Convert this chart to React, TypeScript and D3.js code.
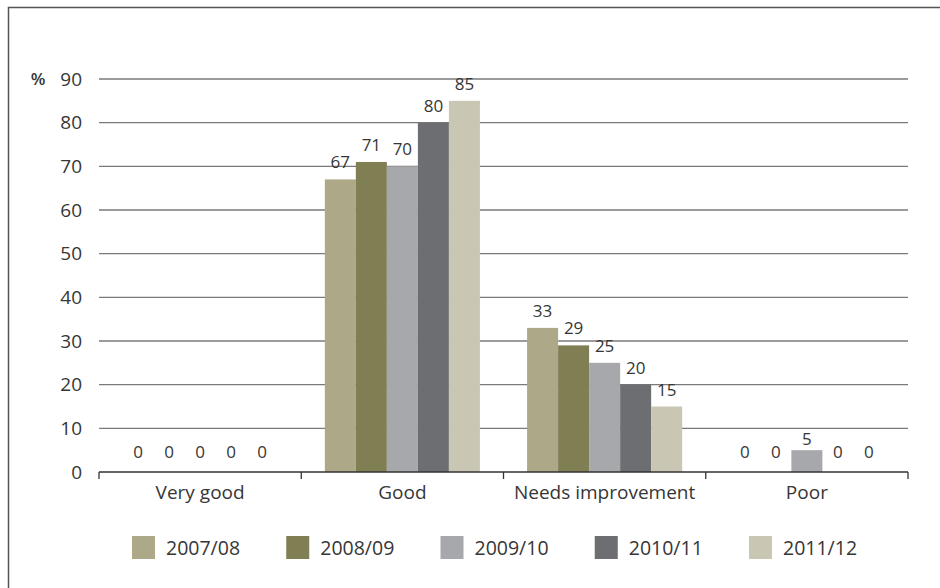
import React from "react";
import * as d3 from "d3";

const categories = ["Very good", "Good", "Needs improvement", "Poor"];
const seriesNames = ["2007/08", "2008/09", "2009/10", "2010/11", "2011/12"];
const colors = ["#ADA887", "#807E53", "#A7A8AC", "#6D6E71", "#C9C6B3"];
const values2007 = [0, 67, 33, 0];
const values2008 = [0, 71, 29, 0];
const values2009 = [0, 70, 25, 5];
const values2010 = [0, 80, 20, 0];
const values2011 = [0, 85, 15, 0];
const seriesValues = [values2007, values2008, values2009, values2010, values2011];
const yTicks = [0, 10, 20, 30, 40, 50, 60, 70, 80, 90];

const W = 940;
const H = 588;
const FONT = "'Open Sans', sans-serif";
const TEXT = "#363636";

export default function App() {
  const x0 = d3.scaleBand<string>().domain(categories).range([99, 908]).paddingInner(0).paddingOuter(0);
  const x1 = d3
    .scaleBand<string>()
    .domain(seriesNames)
    .range([0, x0.bandwidth()])
    .paddingInner(0)
    .paddingOuter(0.76);
  const y = d3.scaleLinear().domain([0, 90]).range([472, 79]);

  const boundaries = [...categories.map((c) => x0(c) as number), 908];
  const legendX = d3.scalePoint<string>().domain(seriesNames).range([132, 749]);

  return (
    <svg
      width={W}
      height={H}
      style={{ position: "absolute", left: 0, top: 0, display: "block", background: "#fff" }}
      fontFamily={FONT}
    >
      <rect x={8.5} y={7.5} width={W + 20} height={H + 20} fill="#fff" stroke="#555" strokeWidth={1.5} />
      {yTicks.filter((t) => t > 0).map((t) => (
        <line key={t} x1={99} x2={908} y1={y(t)} y2={y(t)} stroke="#7a7a7a" strokeWidth={1.3} />
      ))}
      {yTicks.map((t) => (
        <text key={"l" + t} x={82} y={y(t)} dy="0.35em" textAnchor="end" fontSize={19} fill={TEXT}>
          {t}
        </text>
      ))}
      <text x={38} y={y(90)} dy="0.35em" textAnchor="middle" fontSize={17} fontWeight={600} fill={TEXT}>
        %
      </text>
      {categories.map((c, ci) =>
        seriesNames.map((s, si) => {
          const v = seriesValues[si][ci];
          const bx = (x0(c) as number) + (x1(s) as number);
          const bw = x1.bandwidth();
          return (
            <g key={c + s}>
              {v > 0 && <rect x={bx} y={y(v)} width={bw} height={y(0) - y(v)} fill={colors[si]} />}
              <text
                x={bx + bw / 2}
                y={v > 0 ? y(v) - (v < 10 ? 5 : 11) : y(0) - 14}
                textAnchor="middle"
                fontSize={17}
                fill={TEXT}
              >
                {v}
              </text>
            </g>
          );
        })
      )}
      <line x1={99} x2={908} y1={y(0)} y2={y(0)} stroke="#333" strokeWidth={1.3} />
      {boundaries.map((b, i) => (
        <line key={"t" + i} x1={b} x2={b} y1={y(0)} y2={y(0) + 7} stroke="#333" strokeWidth={1.3} />
      ))}
      {categories.map((c) => (
        <text
          key={"c" + c}
          x={(x0(c) as number) + x0.bandwidth() / 2}
          y={499}
          textAnchor="middle"
          fontSize={19}
          fill={TEXT}
        >
          {c}
        </text>
      ))}
      {seriesNames.map((s, i) => (
        <g key={"lg" + s} transform={`translate(${legendX(s)},536)`}>
          <rect x={0} y={0} width={23} height={23} fill={colors[i]} />
          <text x={34} y={19} fontSize={19.5} fill={TEXT}>
            {s}
          </text>
        </g>
      ))}
    </svg>
  );
}
